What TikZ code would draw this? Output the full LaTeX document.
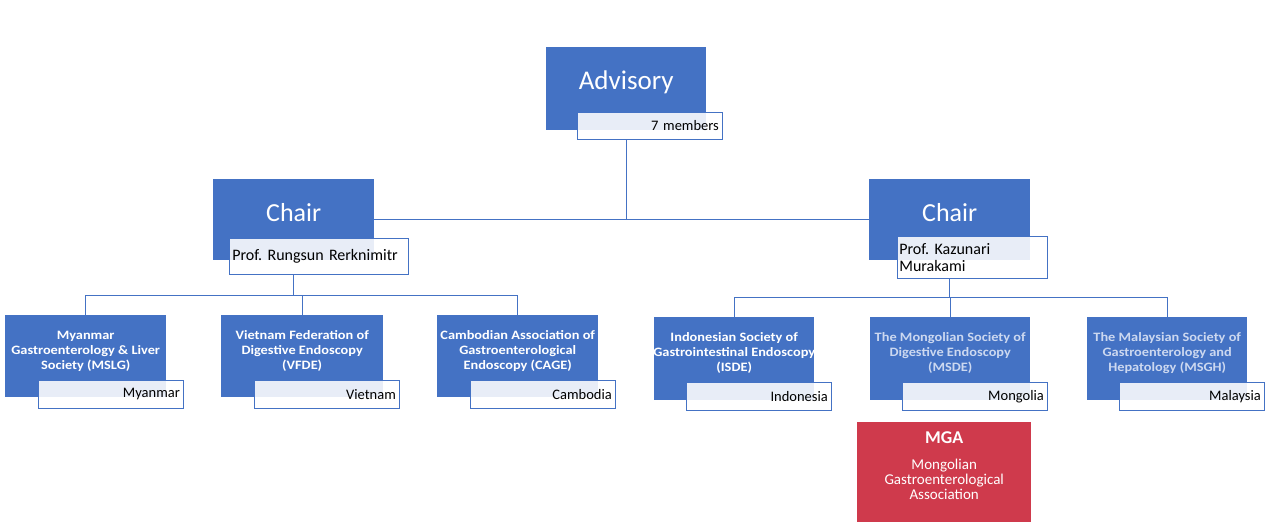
\documentclass[tikz,border=0pt]{standalone}
\usepackage{fontspec}
\setmainfont{Carlito}
\newfontfamily\orgfont[FakeStretch=1.12]{Carlito}
\definecolor{ofblue}{HTML}{4472C4}
\definecolor{mgared}{HTML}{CF3A4C}
\definecolor{paletext}{HTML}{CCD8F0}
\begin{document}
\frenchspacing
\begin{tikzpicture}[x=1pt,y=-1pt,
  box/.style={fill=ofblue, anchor=north west, inner sep=0, draw=none},
  lab/.style={draw=ofblue, line width=0.75pt, fill=white, fill opacity=0.88, text opacity=1,
              anchor=north west, inner ysep=0, font=\fontsize{14.5}{17}\selectfont},
  labr/.style={lab, minimum height=28, text width=138, inner xsep=3.5, align=right},
  head/.style={text=white, inner sep=0},
  org/.style={text=white, font=\orgfont\bfseries\fontsize{12.8}{15}\selectfont, align=center, inner sep=0},
  link/.style={draw=ofblue, line width=0.75pt}
]
\useasboundingbox (0,0) rectangle (1267,532);

% Advisory
\node[box, minimum width=160, minimum height=83] (adv) at (546,47) {};
\node[head, font=\fontsize{27}{30}\selectfont] (advt) at ([yshift=6pt]adv.center) {Advisory};
\node[lab, minimum height=27, text width=138, inner xsep=3.5, align=right] (advl) at (577,112) {7 members};

% Chairs
\node[box, minimum width=161, minimum height=81] (chL) at (213,179) {};
\node[head, font=\fontsize{26}{30}\selectfont] (chLt) at ([yshift=7pt]chL.center) {Chair};
\node[lab, font=\fontsize{16}{17}\selectfont, minimum height=36, text width=173, inner xsep=3, align=left] (labL) at (229,238) {Prof.\ Rungsun Rerknimitr};

\node[box, minimum width=161, minimum height=81] (chR) at (869,179) {};
\node[head, font=\fontsize{26}{30}\selectfont] (chRt) at ([yshift=7pt]chR.center) {Chair};
\node[lab, font=\fontsize{16}{17}\selectfont, minimum height=42, text width=146, inner xsep=2, align=left] (labR) at (897,236) {Prof.\ Kazunari\\Murakami};

% Left children
\node[box, minimum width=161, minimum height=82] (m1) at (5,315) {};
\node[org] (m1t) at ([yshift=5pt]m1.center) {Myanmar\\Gastroenterology \& Liver\\Society (MSLG)};
\node[labr] (m1l) at (38,380) {Myanmar};

\node[box, minimum width=162, minimum height=82] (m2) at (221,315) {};
\node[org] (m2t) at ([yshift=5pt]m2.center) {Vietnam Federation of\\Digestive Endoscopy\\(VFDE)};
\node[labr] (m2l) at (254,380) {Vietnam};

\node[box, minimum width=161, minimum height=82] (m3) at (437,315) {};
\node[org] (m3t) at ([yshift=5pt]m3.center) {Cambodian Association of\\Gastroenterological\\Endoscopy (CAGE)};
\node[labr] (m3l) at (470,380) {Cambodia};

% Right children
\node[box, minimum width=160, minimum height=83] (m4) at (654,317) {};
\node[org] (m4t) at ([yshift=6pt]m4.center) {Indonesian Society of\\Gastrointestinal Endoscopy\\(ISDE)};
\node[labr] (m4l) at (686,382) {Indonesia};

\node[box, minimum width=160, minimum height=83] (m5) at (870,317) {};
\node[org, text=paletext] (m5t) at ([yshift=6pt]m5.center) {The Mongolian Society of\\Digestive Endoscopy\\(MSDE)};
\node[labr] (m5l) at (902,382) {Mongolia};

\node[box, minimum width=160, minimum height=83] (m6) at (1087,317) {};
\node[org, text=paletext] (m6t) at ([yshift=6pt]m6.center) {The Malaysian Society of\\Gastroenterology and\\Hepatology (MSGH)};
\node[labr] (m6l) at (1119,382) {Malaysia};

% MGA
\node[box, fill=mgared, minimum width=174, minimum height=100] (mga) at (857,422) {};
\node[text=white, inner sep=0, font=\fontsize{18}{22}\selectfont\bfseries] (mgat) at ([yshift=35pt]mga.center) {MGA};
\node[text=white, inner sep=0, align=center, font=\fontsize{15}{15}\selectfont] (mgab) at ([yshift=-7pt]mga.center) {Mongolian\\Gastroenterological\\Association};

% Connectors
\draw[link] (advl.south -| adv.center) -- (chL.east -| adv.center);
\draw[link] (chL.east) -- (chR.west);

\draw[link] (labL.south -| chL.center) -- ++(0,21) coordinate (bL);
\draw[link] (m1.north) |- (bL) -| (m3.north);
\draw[link] (m2.north) -- (m2.north |- bL);

\draw[link] (labR.south -| chR.center) -- ++(0,19) coordinate (bR);
\draw[link] (m4.north) |- (bR) -| (m6.north);
\draw[link] (m5.north) -- (m5.north |- bR);
\end{tikzpicture}
\end{document}
